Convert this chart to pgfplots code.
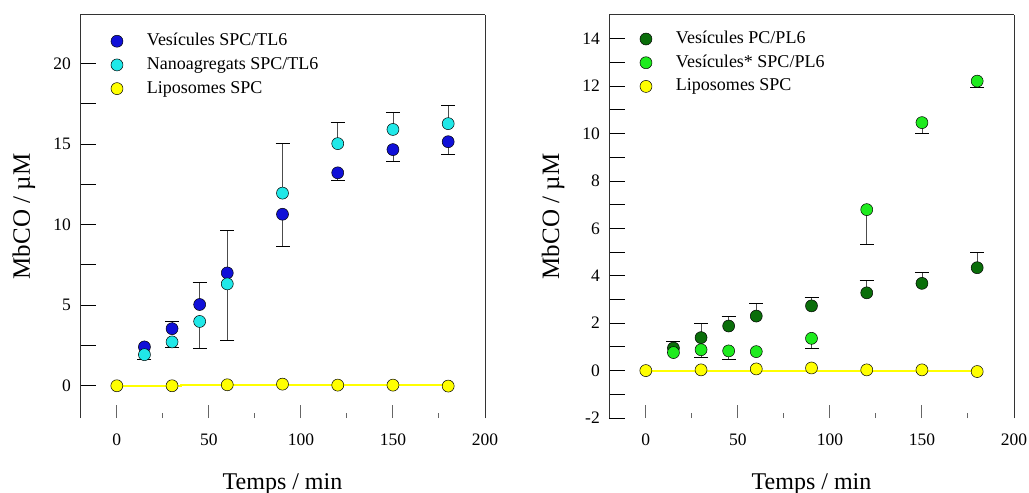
\documentclass[border=0pt]{standalone}
\usepackage{pgfplots}
\pgfplotsset{compat=1.18}
\usepackage{fontspec}
\setmainfont{Liberation Serif}
\usetikzlibrary{calc}
\definecolor{cblue}{RGB}{16,16,216}
\definecolor{ccyan}{RGB}{32,232,232}
\definecolor{cyel}{RGB}{255,255,0}
\definecolor{cdkg}{RGB}{10,110,10}
\definecolor{cltg}{RGB}{30,235,30}
\pgfplotsset{
  mystyle/.style={
    scale only axis, width=405bp, height=403bp,
    xmin=-20, xmax=200,
    xtick={0,50,100,150,200}, minor x tick num=1,
    separate axis lines,
    x axis line style={draw=none},
    y axis line style={draw=black!80, line width=1bp},
    tick align=inside, xtick pos=left, ytick pos=left,
    xtick style={draw=black!60, line width=1bp, /pgfplots/major tick length=13bp, /pgfplots/minor tick length=5bp},
    ytick style={draw=black, line width=0.8bp, /pgfplots/major tick length=16bp, /pgfplots/minor tick length=16bp},
    /pgf/number format/assume math mode=true,
    ticklabel style={font=\fontsize{17.5bp}{20bp}\selectfont, inner sep=0pt},
    xticklabel style={anchor=base, yshift=-27bp},
    yticklabel style={anchor=east, xshift=-9bp},
    xlabel={Temps / min},
    ylabel={MbCO / µM},
    xlabel style={font=\fontsize{24bp}{28bp}\selectfont, at={(axis description cs:0.5,0)}, anchor=base, yshift=-71bp},
    ylabel style={font=\fontsize{25bp}{30bp}\selectfont, at={($(axis description cs:0,0.5)+(-50bp,0)$)}, anchor=base},
    clip=false,
    legend image code/.code={\draw[mark repeat=2,mark phase=2,##1] plot coordinates {(0bp,0bp)(6bp,0bp)(12bp,0bp)};},
    legend style={draw=none, fill=none, inner sep=0pt, outer sep=0pt, anchor=north west,
      column sep=24bp, row sep=6.7bp,
      nodes={inner sep=0pt, text height=13bp, text depth=4bp, font=\fontsize{18bp}{21bp}\selectfont}},
    legend cell align=left,
    mk/.style={only marks, mark=*, mark size=6bp, mark options={draw=black, line width=0.5bp, fill=##1}},
    eb/.style={draw=none, mark=none, forget plot,
      error bars/.cd, y dir=##1, y explicit,
      error bar style={draw=black!70, line width=0.9bp},
      error mark options={draw=black, mark size=7bp, line width=0.9bp, rotate=90}},
  }
}
\begin{document}
\begin{tikzpicture}
\useasboundingbox (0,0) rectangle (1029bp,493bp);
% ---------- left panel
\begin{axis}[mystyle, at={(80bp,75bp)}, anchor=south west,
  ymin=-2, ymax=23, ytick={0,5,10,15,20}, minor y tick num=1,
  legend style={at={(rel axis cs:0.0765,0.956)}}]
\draw[black!80, line width=1bp] (rel axis cs:0,1) -- (rel axis cs:1,1);
% error bars
\addplot[eb=plus] coordinates {(30,3.54) +- (0,0.45) (45,5.04) +- (0,1.38) (60,7.0) +- (0,2.65)};
\addplot[eb=minus] coordinates {(90,10.64) +- (0,2.0) (120,13.21) +- (0,0.47) (150,14.65) +- (0,0.72) (180,15.14) +- (0,0.76)};
\addplot[eb=minus] coordinates {(15,1.93) +- (0,0.30) (30,2.72) +- (0,0.35) (45,3.99) +- (0,1.69) (60,6.32) +- (0,3.54)};
\addplot[eb=plus] coordinates {(90,11.95) +- (0,3.11) (120,15.02) +- (0,1.32) (150,15.9) +- (0,1.05) (180,16.26) +- (0,1.15)};
\addplot[cyel, line width=2bp, forget plot] coordinates {(0,-0.04) (35,-0.04) (35,0.04) (180,0.04)};
% markers
\addplot[mk=cblue] coordinates {(15,2.41) (30,3.54) (45,5.04) (60,7.0) (90,10.64) (120,13.21) (150,14.65) (180,15.14)};
\addlegendentry{Vesícules SPC/TL6}
\addplot[mk=ccyan] coordinates {(15,1.93) (30,2.72) (45,3.99) (60,6.32) (90,11.95) (120,15.02) (150,15.9) (180,16.26)};
\addlegendentry{Nanoagregats SPC/TL6}
\addplot[mk=cyel] coordinates {(0,0) (30,0) (60,0.06) (90,0.1) (120,0.04) (150,0.04) (180,-0.02)};
\addlegendentry{Liposomes SPC}
\end{axis}
% ---------- right panel
\begin{axis}[mystyle, at={(609bp,75bp)}, anchor=south west,
  ymin=-2, ymax=15, ytick={-2,0,2,4,6,8,10,12,14}, minor y tick num=1,
  legend style={at={(rel axis cs:0.0765,0.9615)}}]
\draw[black!80, line width=1bp] (rel axis cs:0,1) -- (rel axis cs:1,1);
\addplot[eb=plus] coordinates {(15,0.95) +- (0,0.27) (30,1.39) +- (0,0.60) (45,1.88) +- (0,0.40) (60,2.30) +- (0,0.53) (90,2.73) +- (0,0.35) (120,3.28) +- (0,0.54) (150,3.68) +- (0,0.45) (180,4.34) +- (0,0.63)};
\addplot[eb=minus] coordinates {(30,0.88) +- (0,0.32) (45,0.83) +- (0,0.38) (90,1.36) +- (0,0.42) (120,6.79) +- (0,1.48) (150,10.46) +- (0,0.45) (180,12.21) +- (0,0.27)};
\addplot[cyel, line width=2bp, forget plot] coordinates {(0,0) (180,0)};
\addplot[mk=cdkg] coordinates {(15,0.95) (30,1.39) (45,1.88) (60,2.30) (90,2.73) (120,3.28) (150,3.68) (180,4.34)};
\addlegendentry{Vesícules PC/PL6}
\addplot[mk=cltg] coordinates {(15,0.76) (30,0.88) (45,0.83) (60,0.80) (90,1.36) (120,6.79) (150,10.46) (180,12.21)};
\addlegendentry{Vesícules* SPC/PL6}
\addplot[mk=cyel] coordinates {(0,0) (30,0.03) (60,0.07) (90,0.11) (120,0.03) (150,0.03) (180,-0.04)};
\addlegendentry{Liposomes SPC}
\end{axis}
\end{tikzpicture}
\end{document}
